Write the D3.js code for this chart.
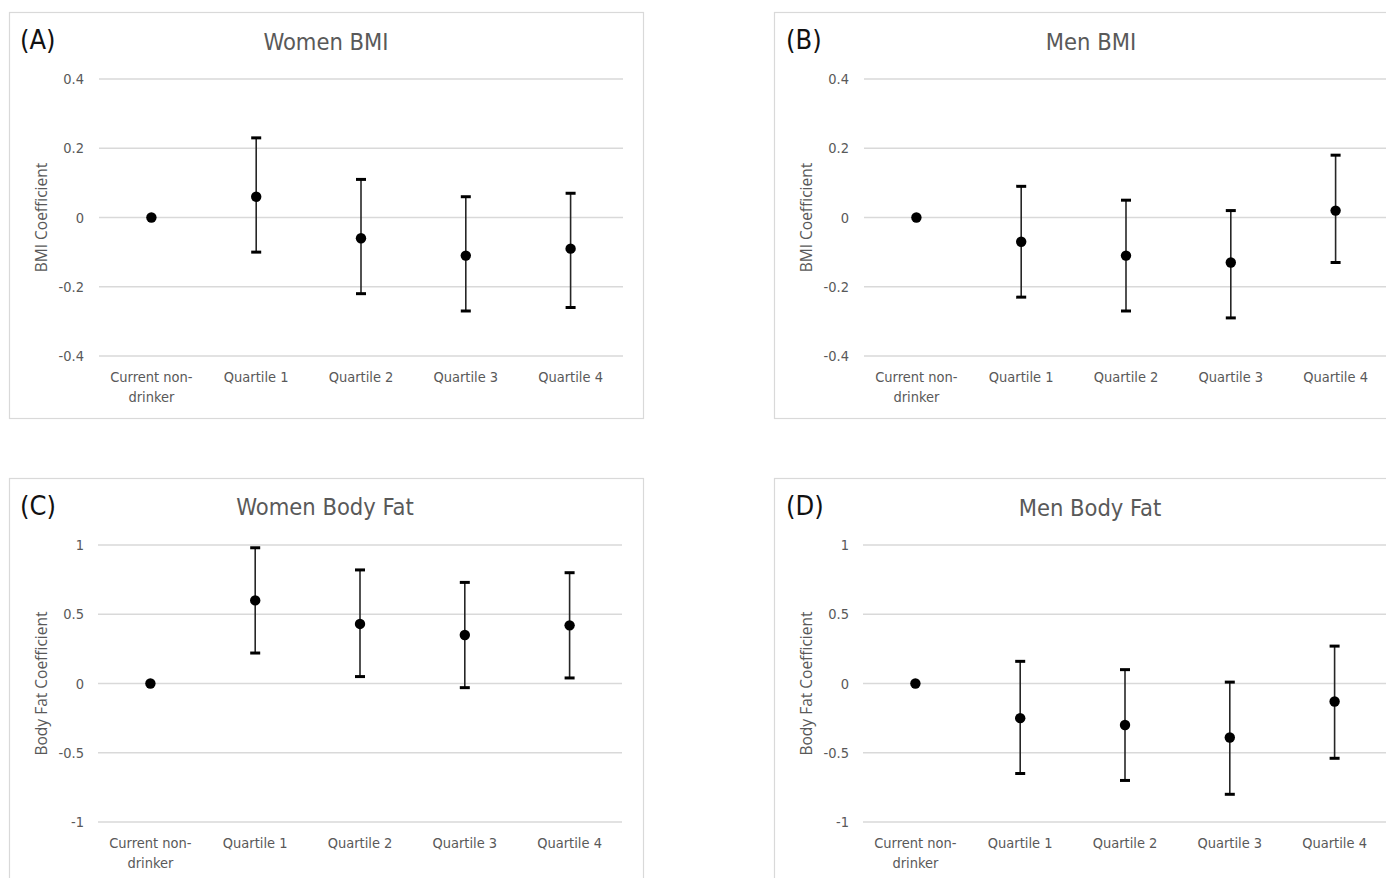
<!DOCTYPE html>
<html>
<head>
<meta charset="utf-8">
<script src="https://cdn.jsdelivr.net/npm/d3@7"></script>
<style>
  html, body { margin: 0; padding: 0; background: #fff; }
  svg { display: block; }
  .narrow { font-family: "DejaVu Sans Condensed", "Liberation Sans Narrow", "Arial Narrow", sans-serif; font-stretch: condensed; }
</style>
</head>
<body>
<svg id="chart" width="1386" height="878"></svg>
<script>
// ---- data ----
const categories = ["Current non-drinker", "Quartile 1", "Quartile 2", "Quartile 3", "Quartile 4"];
const categoryLines = [["Current non-", "drinker"], ["Quartile 1"], ["Quartile 2"], ["Quartile 3"], ["Quartile 4"]];

const panelLetters = ["(A)", "(B)", "(C)", "(D)"];
const panelTitles = ["Women BMI", "Men BMI", "Women Body Fat", "Men Body Fat"];
const yTitles = ["BMI Coefficient", "BMI Coefficient", "Body Fat Coefficient", "Body Fat Coefficient"];

const bmiTicks = [-0.4, -0.2, 0, 0.2, 0.4];
const fatTicks = [-1, -0.5, 0, 0.5, 1];

// point estimates
const womenBmi = [0, 0.06, -0.06, -0.11, -0.09];
const menBmi = [0, -0.07, -0.11, -0.13, 0.02];
const womenFat = [0, 0.60, 0.43, 0.35, 0.42];
const menFat = [0, -0.25, -0.30, -0.39, -0.13];

// lower / upper confidence limits (null = no error bar)
const womenBmiLow = [null, -0.10, -0.22, -0.27, -0.26];
const womenBmiHigh = [null, 0.23, 0.11, 0.06, 0.07];
const menBmiLow = [null, -0.23, -0.27, -0.29, -0.13];
const menBmiHigh = [null, 0.09, 0.05, 0.02, 0.18];
const womenFatLow = [null, 0.22, 0.05, -0.03, 0.04];
const womenFatHigh = [null, 0.98, 0.82, 0.73, 0.80];
const menFatLow = [null, -0.65, -0.70, -0.80, -0.54];
const menFatHigh = [null, 0.16, 0.10, 0.01, 0.27];

const panelValues = [womenBmi, menBmi, womenFat, menFat];
const panelLow = [womenBmiLow, menBmiLow, womenFatLow, menFatLow];
const panelHigh = [womenBmiHigh, menBmiHigh, womenFatHigh, menFatHigh];
const panelTicks = [bmiTicks, bmiTicks, fatTicks, fatTicks];

// ---- layout ----
const layouts = [
  {box: [9, 12, 634, 406], x: [99, 623], y: [356, 79], tickX: 84, yTitleX: 43, titleY: 50, letterX: 20, letterY: 49, catY: 382},
  {box: [774, 12, 640, 406], x: [864, 1388], y: [356, 79], tickX: 849, yTitleX: 808, titleY: 50, letterX: 786, letterY: 49, catY: 382},
  {box: [9, 478, 634, 420], x: [98, 622], y: [822, 545], tickX: 84, yTitleX: 43, titleY: 515, letterX: 20, letterY: 515, catY: 848},
  {box: [774, 478, 640, 420], x: [863, 1387], y: [822, 545], tickX: 849, yTitleX: 808, titleY: 516, letterX: 786, letterY: 515, catY: 848}
];

const svg = d3.select("#chart");
const gray = "#595959";

layouts.forEach((L, p) => {
  const g = svg.append("g");
  // panel border
  g.append("rect")
    .attr("x", L.box[0] + 0.5).attr("y", L.box[1] + 0.5)
    .attr("width", L.box[2]).attr("height", L.box[3])
    .attr("fill", "#fff").attr("stroke", "#d9d9d9").attr("stroke-width", 1.2);

  const ticks = panelTicks[p];
  const x = d3.scaleBand().domain(categories).range(L.x).padding(0);
  const y = d3.scaleLinear().domain([ticks[0], ticks[ticks.length - 1]]).range(L.y);
  const cx = c => x(c) + x.bandwidth() / 2;

  // gridlines
  g.append("g").selectAll("line").data(ticks).join("line")
    .attr("x1", L.x[0]).attr("x2", L.x[1])
    .attr("y1", d => y(d)).attr("y2", d => y(d))
    .attr("stroke", "#d9d9d9").attr("stroke-width", 1.3);

  // y tick labels via axis
  const yAxis = d3.axisLeft(y).tickValues(ticks).tickSize(0).tickPadding(0)
    .tickFormat(d => d3.format("")(d).replace("−", "-"));
  const ya = g.append("g").attr("transform", `translate(${L.tickX},0)`).call(yAxis);
  ya.select(".domain").remove();
  ya.selectAll("text").attr("class", "narrow").attr("font-size", 14.5).attr("fill", gray)
    .attr("font-family", null);

  // x category labels
  const xl = g.append("g").selectAll("text").data(categories).join("text")
    .attr("class", "narrow")
    .attr("x", d => cx(d)).attr("y", L.catY)
    .attr("text-anchor", "middle").attr("font-size", 14.5).attr("fill", gray);
  xl.each(function(d, i) {
    const t = d3.select(this);
    categoryLines[i].forEach((line, k) => {
      t.append("tspan").attr("x", cx(d)).attr("dy", k === 0 ? 0 : 20).text(line);
    });
  });

  // title
  g.append("text").attr("class", "narrow")
    .attr("x", (L.x[0] + L.x[1]) / 2 - (p % 2 === 1 ? 35 : 35)).attr("y", L.titleY)
    .attr("text-anchor", "middle").attr("font-size", 23.5).attr("fill", gray)
    .text(panelTitles[p]);

  // panel letter
  g.append("text").attr("class", "narrow")
    .attr("x", L.letterX).attr("y", L.letterY)
    .attr("font-size", 27).attr("fill", "#111")
    .text(panelLetters[p]);

  // y axis title
  const ymid = (L.y[0] + L.y[1]) / 2;
  g.append("text")
    .attr("transform", `translate(${L.yTitleX},${ymid}) rotate(-90)`)
    .attr("text-anchor", "middle").attr("dominant-baseline", "middle")
    .attr("font-family", "'Open Sans', 'DejaVu Sans', sans-serif")
    .attr("font-size", 15.5).attr("fill", gray)
    .text(yTitles[p]);

  // error bars
  const vals = panelValues[p], lo = panelLow[p], hi = panelHigh[p];
  const bars = categories.map((c, i) => ({c, v: vals[i], lo: lo[i], hi: hi[i]})).filter(d => d.lo !== null);
  g.append("g").selectAll("line").data(bars).join("line")
    .attr("x1", d => cx(d.c)).attr("x2", d => cx(d.c))
    .attr("y1", d => y(d.lo)).attr("y2", d => y(d.hi))
    .attr("stroke", "#262626").attr("stroke-width", 1.6);
  const caps = bars.flatMap(d => [{c: d.c, v: d.lo}, {c: d.c, v: d.hi}]);
  g.append("g").selectAll("line").data(caps).join("line")
    .attr("x1", d => cx(d.c) - 5).attr("x2", d => cx(d.c) + 5)
    .attr("y1", d => y(d.v)).attr("y2", d => y(d.v))
    .attr("stroke", "#000").attr("stroke-width", 3);

  // points
  g.append("g").selectAll("circle").data(categories.map((c, i) => ({c, v: vals[i]}))).join("circle")
    .attr("cx", d => cx(d.c)).attr("cy", d => y(d.v)).attr("r", 5.2)
    .attr("fill", "#000");
});
</script>
</body>
</html>
